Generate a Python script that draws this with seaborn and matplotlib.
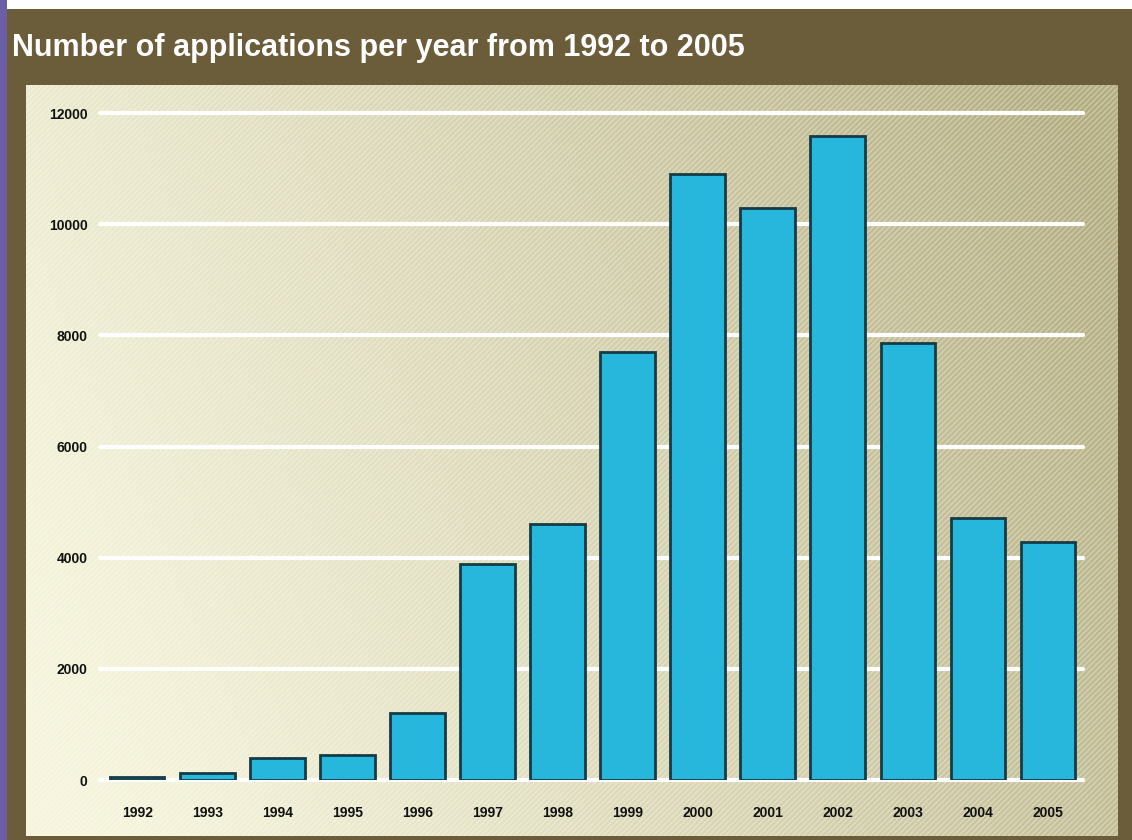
import numpy as np
import pandas as pd
import matplotlib
matplotlib.use("Agg")
import matplotlib.pyplot as plt
from matplotlib.patches import Rectangle
import seaborn as sns

years = ["1992", "1993", "1994", "1995", "1996", "1997", "1998",
         "1999", "2000", "2001", "2002", "2003", "2004", "2005"]
applications = [50, 120, 390, 450, 1200, 3890, 4600,
                7700, 10900, 10290, 11590, 7860, 4710, 4280]
y_ticks = [0, 2000, 4000, 6000, 8000, 10000, 12000]
title = "Number of applications per year from 1992 to 2005"

sns.set_style("white")
plt.rcParams['font.family'] = ['Liberation Sans', 'DejaVu Sans']

W, H = 1132, 840
fig = plt.figure(figsize=(W / 100, H / 100), dpi=100)
fig.patch.set_facecolor("#6c5d3a")

# white strip at top and purple strip at left
fig.patches.append(Rectangle((0, 1 - 9 / H), 1, 9 / H, transform=fig.transFigure,
                             facecolor="white", edgecolor="none", zorder=0))
fig.patches.append(Rectangle((0, 0), 7 / W, 1, transform=fig.transFigure,
                             facecolor="#6a5fa6", edgecolor="none", zorder=1))

# panel background with gradient
px0, px1, py0, py1 = 26, 1118, 85, 836
bg = fig.add_axes([px0 / W, 1 - py1 / H, (px1 - px0) / W, (py1 - py0) / H], zorder=0)
gx, gy = np.meshgrid(np.linspace(0, 1, 400), np.linspace(0, 1, 300))
t = np.clip(0.85 * gx + 0.25 * (1 - gy) - 0.05, 0, 1) ** 1.2
light = np.array([0.965, 0.960, 0.860])
dark = np.array([0.700, 0.675, 0.500])
img = light[None, None, :] * (1 - t[..., None]) + dark[None, None, :] * t[..., None]
bg.imshow(img, aspect="auto", origin="upper", extent=[0, 1, 0, 1])
bg.add_patch(Rectangle((0, 0), 1, 1, facecolor="none", edgecolor=(1, 1, 1, 0.35),
                       hatch="//////", linewidth=0))
bg.set_xlim(0, 1)
bg.set_ylim(0, 1)
bg.axis("off")

# main axes
ax = fig.add_axes([100 / W, 1 - 780 / H, (1083 - 100) / W, (780 - 113) / H], zorder=1)
ax.patch.set_alpha(0)
df = pd.DataFrame({"year": years, "applications": applications})
sns.barplot(data=df, x="year", y="applications", color="#27b6dc", saturation=1,
            edgecolor="#163b45", linewidth=2, width=0.78, ax=ax, zorder=3)
ax.set_xlim(-0.53, 13.5)
ax.set_ylim(0, 12000)
ax.set_yticks(y_ticks)
for yv in y_ticks:
    ax.axhline(yv, color="white", linewidth=3, zorder=1, clip_on=False)
for s in ax.spines.values():
    s.set_visible(False)
ax.set_xlabel("")
ax.set_ylabel("")
ax.tick_params(axis="y", length=0, pad=9, labelsize=10)
ax.tick_params(axis="x", length=0, pad=19, labelsize=10)
for lab in ax.get_yticklabels() + ax.get_xticklabels():
    lab.set_fontweight("bold")
    lab.set_color("#111111")

fig.text(12 / W, 1 - 48 / H, title, color="white", fontsize=22,
         fontweight="bold", ha="left", va="center")

fig.savefig("out.png", dpi=100, facecolor=fig.get_facecolor())
